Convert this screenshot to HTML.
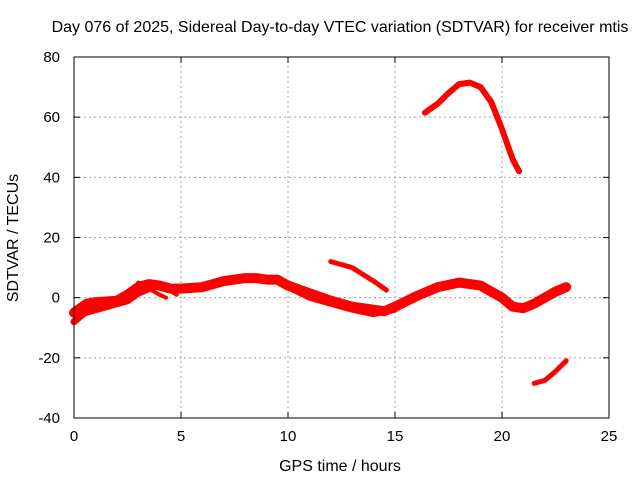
<!DOCTYPE html>
<html><head><meta charset="utf-8"><style>
body{margin:0;background:#fff}
svg text{font-family:"Liberation Sans",sans-serif;font-size:15px;fill:#000}
svg text.big{font-size:16px}
</style></head><body>
<svg id="c" width="640" height="480">
<text class="big" x="340" y="32" text-anchor="middle">Day 076 of 2025, Sidereal Day-to-day VTEC variation (SDTVAR) for receiver mtis</text>
<text class="big" x="340" y="471" text-anchor="middle">GPS time / hours</text>
<text class="big" transform="translate(18,238) rotate(-90)" text-anchor="middle">SDTVAR / TECUs</text>
<g id="grid"></g><g id="series"></g><g id="axes"></g>
</svg>
<script>
const xTicks=[0,5,10,15,20,25];
const yTicks=[-40,-20,0,20,40,60,80];
const mainBand=[[0,-5],[0.3,-3.5],[0.6,-2],[1,-1.5],[2,-1],[2.5,1],[3,3.5],[3.5,4.5],[4,4],[4.5,3],[5,3],[6,3.5],[7,5.5],[8,6.5],[8.5,6.5],[9,6],[9.5,6],[10,4],[11,1.5],[12,-1],[13,-3],[14,-4],[14.5,-4.5],[15,-3],[16,0.5],[17,3.5],[18,5],[19,4],[20,0],[20.5,-3],[21,-3.5],[21.5,-2],[22,0],[22.5,2],[23,3.5]];
const lowerBand=[[0,-8],[0.5,-5],[1.5,-3],[2.5,-1],[3,1.5],[3.5,3]];
const strandA=[[3,5],[3.5,3],[4,1],[4.3,0]];
const strandB=[[3.7,5],[4.3,3],[4.8,1]];
const strandC=[[10,3.5],[11,0],[12,-2],[13,-4],[14,-5.5],[15,-4]];
const segNoon=[[12,12],[13,10],[14,5.5],[14.6,2.5]];
const segPeak=[[16.4,61.5],[17,64.5],[17.5,68],[18,71],[18.5,71.5],[19,70],[19.5,65],[20,56],[20.5,46],[20.8,42]];
const segLow=[[21.5,-28.5],[22,-27.5],[22.5,-24.5],[23,-21]];
const X0=74,X1=609,Y0=418,Y1=57;
const sx=v=>X0+(v-0)/25*(X1-X0);
const sy=v=>Y0-(v+40)/120*(Y0-Y1);
const NS="http://www.w3.org/2000/svg";
const mk=(t,a)=>{const e=document.createElementNS(NS,t);for(const k in a)e.setAttribute(k,a[k]);return e;};
const grid=document.getElementById('grid'),axes=document.getElementById('axes'),ser=document.getElementById('series');
xTicks.forEach(t=>{
 if(t>0&&t<25){const l=mk('line',{x1:sx(t),x2:sx(t),y1:Y0,y2:Y1,stroke:'#a0a0a0','stroke-dasharray':'2,3'});
 
 grid.appendChild(l);}
 const tx=mk('text',{x:sx(t),y:Y0+23,'text-anchor':'middle'});tx.textContent=t;
 
 axes.appendChild(tx);
 axes.appendChild(mk('line',{x1:sx(t),x2:sx(t),y1:Y0,y2:Y0-6,stroke:'#000'}));
 axes.appendChild(mk('line',{x1:sx(t),x2:sx(t),y1:Y1,y2:Y1+6,stroke:'#000'}));
});
yTicks.forEach(t=>{
 if(t>-40&&t<80){const l=mk('line',{x1:X0,x2:X1,y1:sy(t),y2:sy(t),stroke:'#a0a0a0','stroke-dasharray':'2,3'});
 
 grid.appendChild(l);}
 const tx=mk('text',{x:X0-14,y:sy(t)+5,'text-anchor':'end'});tx.textContent=t;
 
 axes.appendChild(tx);
 axes.appendChild(mk('line',{x1:X0,x2:X0+6,y1:sy(t),y2:sy(t),stroke:'#000'}));
 axes.appendChild(mk('line',{x1:X1,x2:X1-6,y1:sy(t),y2:sy(t),stroke:'#000'}));
});
const frame=mk('rect',{x:X0,y:Y1,width:X1-X0,height:Y0-Y1,fill:'none',stroke:'#000'});

axes.appendChild(frame);
function draw(pts,w,name){
 const d=pts.map((p,i)=>(i?'L':'M')+sx(p[0]).toFixed(1)+','+sy(p[1]).toFixed(1)).join('');
 const p=mk('path',{d:d,fill:'none',stroke:'#ff0000','stroke-width':w,'stroke-linejoin':'round','stroke-linecap':'round'});
 
 ser.appendChild(p);
}
draw(mainBand,10,'sdtvar-main-band');
draw(lowerBand,7,'sdtvar-lower-band');
draw(strandA,4,'sdtvar-strand-a');
draw(strandB,4,'sdtvar-strand-b');
draw(strandC,6,'sdtvar-strand-c');
draw(segNoon,5,'sdtvar-noon-segment');
draw(segPeak,6,'sdtvar-peak-segment');
draw(segLow,5,'sdtvar-low-segment');
</script>
</body></html>
